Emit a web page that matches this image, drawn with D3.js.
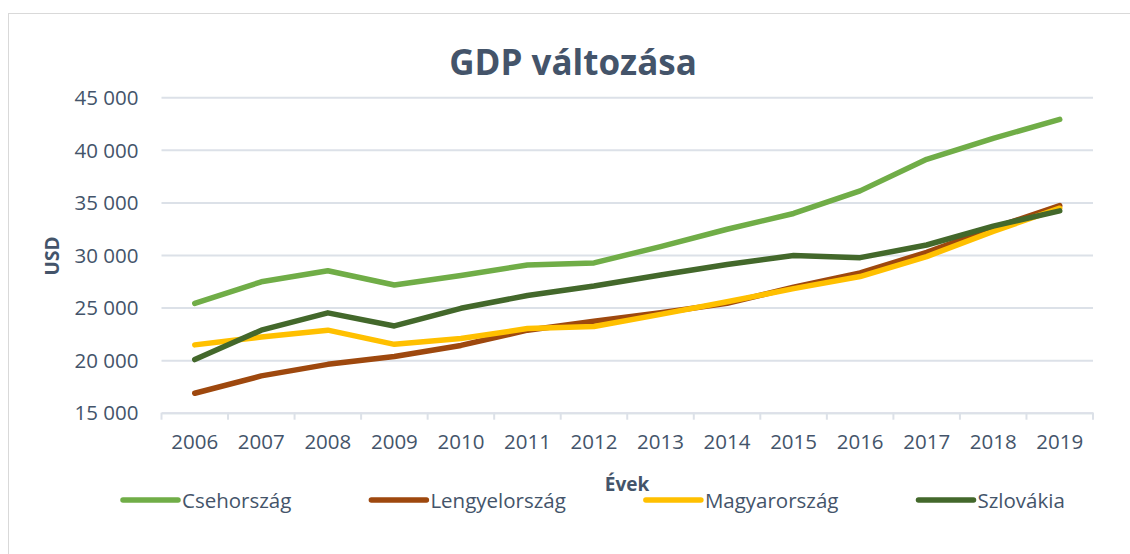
<!DOCTYPE html>
<html>
<head>
<meta charset="utf-8">
<script src="https://cdn.jsdelivr.net/npm/d3@7"></script>
<style>
  body { margin: 0; background: #fff; }
  text { font-family: "Open Sans", sans-serif; fill: #44546A; }
</style>
</head>
<body>
<div id="chart"></div>
<script>
// years on the x axis
var years = ["2006", "2007", "2008", "2009", "2010", "2011", "2012",
             "2013", "2014", "2015", "2016", "2017", "2018", "2019"];

// GDP per capita (USD)
var cseh     = [25400, 27450, 28500, 27150, 28050, 29050, 29250, 30800, 32450, 33950, 36100, 39100, 41100, 42900];
var lengyel  = [16850, 18500, 19600, 20350, 21400, 22850, 23700, 24500, 25400, 26950, 28300, 30250, 32550, 34700];
var magyar   = [21450, 22200, 22850, 21500, 22050, 23000, 23200, 24350, 25550, 26800, 27950, 29850, 32250, 34450];
var szlovak  = [20050, 22850, 24500, 23250, 24930, 26150, 27050, 28100, 29100, 29950, 29750, 30950, 32750, 34200];

var yTicks = [15000, 20000, 25000, 30000, 35000, 40000, 45000];

var series = [
  {name: "Csehország",   values: cseh,    color: "#70AD47"},
  {name: "Lengyelország", values: lengyel, color: "#9E480E"},
  {name: "Magyarország", values: magyar,  color: "#FFC000"},
  {name: "Szlovákia",    values: szlovak, color: "#43682B"}
];

var width = 1130, height = 554;
var plot = {left: 161.5, right: 1093, top: 97.3, bottom: 412.7};

var svg = d3.select("#chart").append("svg")
    .attr("width", width)
    .attr("height", height);

// chart area border
svg.append("rect")
    .attr("x", 8.5).attr("y", 13.5)
    .attr("width", 1140).attr("height", 560)
    .attr("fill", "none")
    .attr("stroke", "#D9D9D9");

var x = d3.scaleBand()
    .domain(years)
    .range([plot.left, plot.right]);

var y = d3.scaleLinear()
    .domain([15000, 45000])
    .range([plot.bottom, plot.top]);

var fmt = function(d) { return d3.format(",")(d).replace(/,/g, " "); };

// y axis: gridlines + labels
var yAxis = svg.append("g")
    .attr("transform", "translate(" + plot.left + ",0)")
    .call(d3.axisLeft(y).tickValues(yTicks).tickFormat(fmt)
      .tickSize(-(plot.right - plot.left)).tickPadding(23));
yAxis.select(".domain").remove();
yAxis.selectAll(".tick line").attr("stroke", "#DCE1E8").attr("stroke-width", 2);
yAxis.selectAll(".tick text")
    .style("font-size", "20.5px")
    .style("fill", "#44546A")
    .attr("dy", "0.35em");

// x axis: line, ticks between categories, labels
var xAxis = svg.append("g")
    .attr("transform", "translate(0," + plot.bottom + ")")
    .call(d3.axisBottom(x).tickSize(0).tickPadding(22));
xAxis.select(".domain").attr("stroke", "#DCE1E8").attr("stroke-width", 2);
xAxis.selectAll(".tick text")
    .style("font-size", "20.5px")
    .style("fill", "#44546A");

var bounds = years.map(function(d) { return x(d); }).concat([plot.right]);
xAxis.selectAll("line.sep")
    .data(bounds)
  .enter().append("line")
    .attr("class", "sep")
    .attr("x1", function(d) { return d; })
    .attr("x2", function(d) { return d; })
    .attr("y1", 0).attr("y2", 7)
    .attr("stroke", "#DCE1E8")
    .attr("stroke-width", 2);

// lines
var line = d3.line()
    .x(function(d, i) { return x(years[i]) + x.bandwidth() / 2; })
    .y(function(d) { return y(d); });

svg.selectAll("path.series")
    .data(series)
  .enter().append("path")
    .attr("class", "series")
    .attr("d", function(d) { return line(d.values); })
    .attr("fill", "none")
    .attr("stroke", function(d) { return d.color; })
    .attr("stroke-width", 5.5)
    .attr("stroke-linecap", "round")
    .attr("stroke-linejoin", "round");

// title
svg.append("text")
    .attr("x", 573).attr("y", 75)
    .attr("text-anchor", "middle")
    .style("font-size", "35px")
    .style("font-weight", "bold")
    .text("GDP változása");

// axis titles
svg.append("text")
    .attr("transform", "translate(59,256) rotate(-90)")
    .attr("text-anchor", "middle")
    .style("font-size", "19px")
    .style("font-weight", "bold")
    .text("USD");

svg.append("text")
    .attr("x", 627).attr("y", 491)
    .attr("text-anchor", "middle")
    .style("font-size", "19px")
    .style("font-weight", "bold")
    .text("Évek");

// legend
var lx = 123;
series.forEach(function(s) {
  var g = svg.append("g").attr("transform", "translate(" + lx + ",500)");
  g.append("line")
      .attr("x1", 0).attr("x2", 55)
      .attr("stroke", s.color)
      .attr("stroke-width", 5.5)
      .attr("stroke-linecap", "round");
  var t = g.append("text")
      .attr("x", 59).attr("y", 7.5)
      .style("font-size", "20.5px")
      .text(s.name);
  lx += 59 + t.node().getComputedTextLength() + 80;
});
</script>
</body>
</html>
